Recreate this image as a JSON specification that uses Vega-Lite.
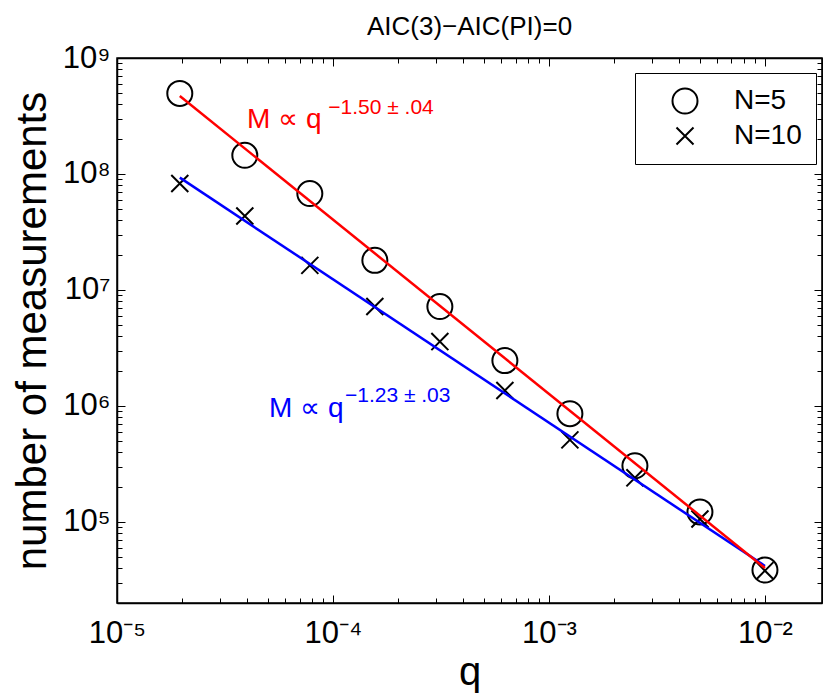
{
  "$schema": "https://vega.github.io/schema/vega-lite/v6.json",
  "width": 705,
  "height": 545,
  "autosize": {"type": "none"},
  "padding": {"left": 117, "top": 58, "right": 1, "bottom": 93},
  "background": "white",
  "title": {"text": "AIC(3)−AIC(PI)=0", "fontSize": 26, "font": "Liberation Sans", "fontWeight": "normal", "color": "black", "anchor": "middle", "offset": 2},
  "config": {
    "title": {"fontSize": 26, "font": "Liberation Sans", "fontWeight": "normal", "color": "black"},
    "view": {"stroke": "black", "strokeWidth": 1.5},
    "axis": {"grid": false, "domainColor": "black", "domainWidth": 1.5, "tickColor": "black", "tickWidth": 1, "ticks": true, "labelColor": "black", "titleColor": "black", "labelFont": "Liberation Sans", "titleFont": "Liberation Sans", "titleFontWeight": "normal", "labelOverlap": false, "labelFlush": false, "labelBound": false, "offset": 0}
  },
  "datasets": {
    "pts": [
      {"series": "N=5", "q": 1.953125e-5, "M": 4.95e8},
      {"series": "N=5", "q": 3.90625e-5, "M": 1.45e8},
      {"series": "N=5", "q": 7.8125e-5, "M": 6.78e7},
      {"series": "N=5", "q": 1.5625e-4, "M": 1.80e7},
      {"series": "N=5", "q": 3.125e-4, "M": 7.2e6},
      {"series": "N=5", "q": 6.25e-4, "M": 2.46e6},
      {"series": "N=5", "q": 1.25e-3, "M": 8.57e5},
      {"series": "N=5", "q": 2.5e-3, "M": 3.05e5},
      {"series": "N=5", "q": 5e-3, "M": 1.22e5},
      {"series": "N=5", "q": 1e-2, "M": 3.85e4},
      {"series": "N=10", "q": 1.953125e-5, "M": 8.27e7},
      {"series": "N=10", "q": 3.90625e-5, "M": 4.34e7},
      {"series": "N=10", "q": 7.8125e-5, "M": 1.63e7},
      {"series": "N=10", "q": 1.5625e-4, "M": 7.2e6},
      {"series": "N=10", "q": 3.125e-4, "M": 3.59e6},
      {"series": "N=10", "q": 6.25e-4, "M": 1.36e6},
      {"series": "N=10", "q": 1.25e-3, "M": 5.1e5},
      {"series": "N=10", "q": 2.5e-3, "M": 2.4e5},
      {"series": "N=10", "q": 5e-3, "M": 1.06e5},
      {"series": "N=10", "q": 1e-2, "M": 3.8e4}
    ],
    "fits": [
      {"fit": "slope −1.23", "q": 1.953125e-5, "M": 9.3e7},
      {"fit": "slope −1.23", "q": 1e-2, "M": 4.17e4},
      {"fit": "slope −1.50", "q": 1.953125e-5, "M": 4.7e8},
      {"fit": "slope −1.50", "q": 1e-2, "M": 4.0e4}
    ],
    "notes": [
      {"fit": "slope −1.50", "q": 4.0e-5, "M": 2.485e8, "label": "M ∝ q", "q2": 9.51e-5, "M2": 3.263e8, "sup": "−1.50 ± .04"},
      {"fit": "slope −1.23", "q": 5.055e-5, "M": 8.075e5, "label": "M ∝ q", "q2": 1.136e-4, "M2": 1.073e6, "sup": "−1.23 ± .03"}
    ]
  },
  "layer": [
    {
      "data": {"name": "pts"},
      "mark": {"type": "point", "filled": false, "strokeWidth": 2, "color": "black", "opacity": 1},
      "encoding": {
        "x": {"field": "q", "type": "quantitative",
          "scale": {"type": "log", "domain": [1e-5, 0.01837], "nice": false},
          "axis": {"orient": "bottom", "title": "q", "titleFontSize": 40, "titlePadding": 4,
            "values": [1e-5, 1e-4, 1e-3, 1e-2],
            "labelExpr": "'10' + ['⁻⁵','⁻⁴','⁻³','⁻²'][round(log(datum.value)/LN10) + 5]",
            "labelFontSize": 31, "labelPadding": 23, "tickSize": -8}},
        "y": {"field": "M", "type": "quantitative",
          "scale": {"type": "log", "domain": [20000, 1e9], "nice": false},
          "axis": {"orient": "left", "title": "number of measurements", "titleFontSize": 42, "titlePadding": 8,
            "values": [1e5, 1e6, 1e7, 1e8, 1e9],
            "labelExpr": "'10' + ['⁵','⁶','⁷','⁸','⁹'][round(log(datum.value)/LN10) - 5]",
            "labelFontSize": 31, "labelPadding": 15, "tickSize": -8}},
        "shape": {"field": "series", "type": "nominal",
          "scale": {"domain": ["N=5", "N=10"], "range": ["circle", "M-1,-1L1,1M-1,1L1,-1"]},
          "legend": {"title": null, "orient": "none", "legendX": 518, "legendY": 15, "strokeColor": "black", "fillColor": "white", "padding": 14, "labelFontSize": 28, "labelFont": "Liberation Sans", "labelColor": "black", "labelOffset": 35, "rowPadding": 4, "symbolStrokeWidth": 2, "symbolStrokeColor": "black", "symbolFillColor": "transparent", "symbolOffset": 22}},
        "size": {"field": "series", "type": "nominal",
          "scale": {"domain": ["N=5", "N=10"], "range": [625, 290]},
          "legend": {"title": null, "orient": "none", "legendX": 518, "legendY": 15, "strokeColor": "black", "fillColor": "white", "padding": 14, "labelFontSize": 28, "labelFont": "Liberation Sans", "labelColor": "black", "labelOffset": 35, "rowPadding": 4, "symbolStrokeWidth": 2, "symbolStrokeColor": "black", "symbolFillColor": "transparent", "symbolOffset": 22}}
      }
    },
    {
      "data": {"name": "fits"},
      "mark": {"type": "line", "strokeWidth": 2.5},
      "encoding": {
        "x": {"field": "q", "type": "quantitative",
          "axis": {"orient": "top", "title": null, "labels": false, "values": [1e-5, 1e-4, 1e-3, 1e-2], "tickSize": -8}},
        "y": {"field": "M", "type": "quantitative",
          "axis": {"orient": "right", "title": null, "labels": false, "values": [1e5, 1e6, 1e7, 1e8, 1e9], "tickSize": -8}},
        "color": {"field": "fit", "type": "nominal", "scale": {"domain": ["slope −1.50", "slope −1.23"], "range": ["#ff0000", "#0000ff"]}, "legend": null},
        "detail": {"field": "fit"}
      }
    },
    {
      "data": {"name": "notes"},
      "mark": {"type": "text", "align": "left", "baseline": "alphabetic", "font": "Liberation Sans", "fontSize": 28},
      "encoding": {
        "x": {"field": "q", "type": "quantitative",
          "axis": {"orient": "bottom", "title": null, "labels": false, "domain": false, "tickSize": -5,
            "values": [2e-5,3e-5,4e-5,5e-5,6e-5,7e-5,8e-5,9e-5,2e-4,3e-4,4e-4,5e-4,6e-4,7e-4,8e-4,9e-4,2e-3,3e-3,4e-3,5e-3,6e-3,7e-3,8e-3,9e-3]}},
        "y": {"field": "M", "type": "quantitative",
          "axis": {"orient": "left", "title": null, "labels": false, "domain": false, "tickSize": -5,
            "values": [3e4,4e4,5e4,6e4,7e4,8e4,9e4,2e5,3e5,4e5,5e5,6e5,7e5,8e5,9e5,2e6,3e6,4e6,5e6,6e6,7e6,8e6,9e6,2e7,3e7,4e7,5e7,6e7,7e7,8e7,9e7,2e8,3e8,4e8,5e8,6e8,7e8,8e8,9e8]}},
        "text": {"field": "label"},
        "color": {"field": "fit", "type": "nominal", "legend": null}
      }
    },
    {
      "data": {"name": "notes"},
      "mark": {"type": "text", "align": "left", "baseline": "alphabetic", "font": "Liberation Sans", "fontSize": 21},
      "encoding": {
        "x": {"field": "q2", "type": "quantitative",
          "axis": {"orient": "top", "title": null, "labels": false, "domain": false, "tickSize": -5,
            "values": [2e-5,3e-5,4e-5,5e-5,6e-5,7e-5,8e-5,9e-5,2e-4,3e-4,4e-4,5e-4,6e-4,7e-4,8e-4,9e-4,2e-3,3e-3,4e-3,5e-3,6e-3,7e-3,8e-3,9e-3]}},
        "y": {"field": "M2", "type": "quantitative",
          "axis": {"orient": "right", "title": null, "labels": false, "domain": false, "tickSize": -5,
            "values": [3e4,4e4,5e4,6e4,7e4,8e4,9e4,2e5,3e5,4e5,5e5,6e5,7e5,8e5,9e5,2e6,3e6,4e6,5e6,6e6,7e6,8e6,9e6,2e7,3e7,4e7,5e7,6e7,7e7,8e7,9e7,2e8,3e8,4e8,5e8,6e8,7e8,8e8,9e8]}},
        "text": {"field": "sup"},
        "color": {"field": "fit", "type": "nominal", "legend": null}
      }
    }
  ],
  "resolve": {"axis": {"x": "independent", "y": "independent"}}
}
